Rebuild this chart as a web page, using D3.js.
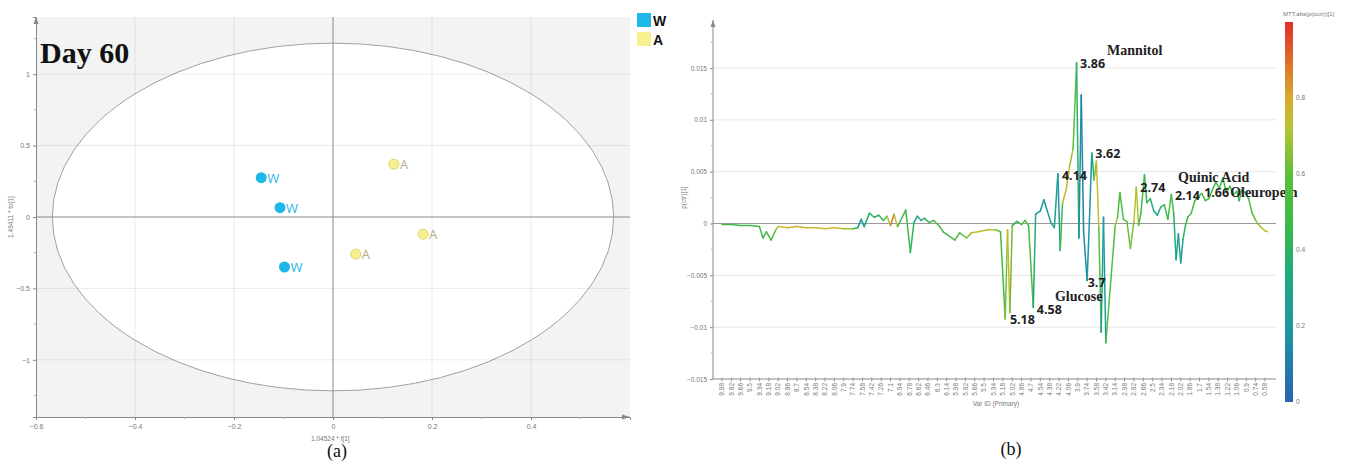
<!DOCTYPE html>
<html><head><meta charset="utf-8">
<script src="https://cdn.jsdelivr.net/npm/d3@7"></script>
<style>body{margin:0;background:#fff}svg{display:block}</style>
</head><body><svg id="c" width="1352" height="461"></svg>
<script>
// ---------- Panel (a): PLS-DA score plot ----------
const groupW_t1  = [-0.145, -0.107, -0.098];
const groupW_to1 = [0.275, 0.065, -0.35];
const groupA_t1  = [0.123, 0.182, 0.046];
const groupA_to1 = [0.37, -0.12, -0.26];
const scoreXTicks = [-0.6, -0.4, -0.2, 0, 0.2, 0.4];
const scoreYTicks = [-1, -0.5, 0, 0.5, 1];
const scoreXMinor = [-0.5, -0.3, -0.1, 0.1, 0.3, 0.5];
const scoreYMinor = [-1.25, -0.75, -0.25, 0.25, 0.75, 1.25];
const hotellingR = [0.567, 1.217];
const groupNames = ["W", "A"];

// ---------- Panel (b): S-line loading plot ----------
const varTickLabels = ["9.98","9.82","9.66","9.5","9.34","9.18","9.02","8.86","8.7","8.54","8.38","8.22","8.06","7.9","7.74","7.58","7.42","7.26","7.1","6.94","6.78","6.62","6.46","6.3","6.14","5.98","5.82","5.66","5.5","5.34","5.18","5.02","4.86","4.7","4.54","4.38","4.22","4.06","3.9","3.74","3.58","3.42","3.14","2.98","2.82","2.66","2.5","2.34","2.18","2.02","1.86","1.7","1.54","1.38","1.22","1.06","0.9","0.74","0.58"];
const loadPpm = [9.98,9.82,9.66,9.5,9.34,9.28,9.22,9.14,9.06,9.02,8.86,8.7,8.54,8.38,8.22,8.06,7.9,7.74,
  7.66,7.6,7.55,7.46,7.38,7.3,7.22,7.16,7.1,7.04,6.98,6.9,6.84,6.76,6.7,6.64,6.58,6.52,6.44,6.36,6.26,6.2,
  6.0,5.92,5.8,5.72,5.6,5.44,5.3,5.22,5.14,5.1,5.06,5.02,4.94,4.86,4.8,4.74,4.66,4.62,4.54,4.48,4.42,4.36,4.3,
  4.24,4.2,4.16,4.1,4.04,3.98,3.92,3.88,3.84,3.8,3.74,3.7,3.66,3.62,3.58,3.54,3.5,3.46,3.42,
  3.14,3.1,3.06,3.0,2.94,2.88,2.82,2.78,2.74,2.7,2.64,2.6,2.54,2.48,2.42,2.36,2.3,2.24,2.18,2.14,2.1,2.06,2.02,
  1.98,1.94,1.9,1.84,1.78,1.72,1.66,1.6,1.54,1.48,1.42,1.36,1.3,1.24,1.18,1.12,1.06,1.02,0.98,0.92,0.86,0.8,0.74,0.66,0.58,0.54];
const loadValue = [-0.0001,-0.0001,-0.0002,-0.0002,-0.0003,-0.0014,-0.0008,-0.0016,-0.0006,-0.0003,-0.0004,-0.0003,-0.0004,-0.0004,-0.0005,-0.0004,-0.0005,-0.0005,
  -0.0004,0.0004,-0.0003,0.0010,0.0006,0.0008,0.0003,0.0007,-0.0002,0.0009,-0.0003,0.0006,0.0013,-0.0028,0.0001,0.0007,0.0003,0.0005,0.0001,0.0003,-0.0003,-0.0008,
  -0.0016,-0.0009,-0.0014,-0.0009,-0.0008,-0.0006,-0.0006,-0.0008,-0.0092,-0.0006,-0.0086,-0.0002,0.0002,-0.0001,0.0003,-0.0002,-0.0081,0.0009,0.0012,0.0023,0.0012,0.0001,-0.0004,
  0.0048,-0.0026,0.0020,0.0032,0.0055,0.0072,0.0155,-0.0014,0.0124,-0.0008,-0.0055,0.0004,0.0068,0.0042,0.0060,-0.0004,-0.0105,0.0006,-0.0115,
  -0.0002,0.0006,0.0030,0.0004,0.0002,-0.0024,0.0002,0.0035,-0.0002,0.0010,0.0047,0.0020,0.0024,0.0012,0.0008,0.0016,0.0018,0.0004,0.0028,0.0010,-0.0035,-0.0010,-0.0038,
  -0.0015,-0.0002,0.0006,0.0010,0.0022,0.0026,0.0029,0.0022,0.0024,0.0032,0.0040,0.0034,0.0044,0.0030,0.0036,0.0028,0.0031,0.0022,0.0032,0.0030,0.0024,0.0010,0.0003,-0.0003,-0.0007,-0.0008];
const loadCorr = [0.5,0.5,0.5,0.5,0.5,0.45,0.5,0.5,0.6,0.76,0.76,0.76,0.76,0.77,0.76,0.76,0.74,0.6,
  0.3,0.2,0.25,0.45,0.45,0.3,0.5,0.55,0.85,0.92,0.5,0.45,0.5,0.45,0.35,0.22,0.3,0.4,0.45,0.5,0.55,0.5,
  0.5,0.55,0.6,0.7,0.76,0.76,0.72,0.5,0.5,0.78,0.78,0.45,0.35,0.55,0.5,0.6,0.45,0.25,0.25,0.22,0.25,0.3,0.3,
  0.2,0.2,0.78,0.78,0.74,0.62,0.55,0.22,0.12,0.12,0.2,0.18,0.2,0.5,0.78,0.7,0.45,0.1,0.35,
  0.78,0.6,0.5,0.55,0.6,0.62,0.66,0.8,0.6,0.5,0.5,0.4,0.4,0.35,0.3,0.35,0.45,0.5,0.55,0.45,0.25,0.25,0.25,
  0.35,0.45,0.45,0.5,0.5,0.45,0.5,0.55,0.5,0.5,0.45,0.5,0.5,0.4,0.5,0.55,0.5,0.5,0.4,0.5,0.5,0.55,0.6,0.72,0.76,0.76];
const loadYTicks = [-0.015,-0.01,-0.005,0,0.005,0.01,0.015];
const loadYMinor = [-0.0125,-0.0075,-0.0025,0.0025,0.0075,0.0125,0.0175];
const colorbarTicks = [0,0.2,0.4,0.6,0.8];
const peakLabels = [
  {t:"3.86", ppm:3.86, v:0.01504},
  {t:"3.62", ppm:3.60, v:0.00633},
  {t:"4.14", ppm:4.17, v:0.0042},
  {t:"2.74", ppm:2.71, v:0.00305},
  {t:"2.14", ppm:2.12, v:0.00227},
  {t:"1.66", ppm:1.62, v:0.00256},
  {t:"5.18", ppm:5.06, v:-0.00972},
  {t:"4.58", ppm:4.60, v:-0.00875},
  {t:"3.7",  ppm:3.73, v:-0.00614}
];
const nameLabels = [
  {t:"Mannitol", ppm:3.86, v:0.01504, dx:27, dy:-13},
  {t:"Quinic Acid", ppm:2.065, v:0.00401, dx:0, dy:0},
  {t:"Oleuropein", ppm:1.176, v:0.00256, dx:0, dy:0},
  {t:"Glucose", ppm:4.29, v:-0.0075, dx:0, dy:0}
];

const svg = d3.select("#c");
const tickFont = "Liberation Sans, Arial, sans-serif";
const wCol = "#1fb6e8", aFill = "#f6f08e", aStroke = "#ddd468";

// ====== Panel (a) ======
const xA = d3.scaleLinear().domain([-0.6, 0.6]).range([36, 630]);
const yA = d3.scaleLinear().domain([-1.4, 1.4]).range([417, 17]);
const gA = svg.append("g");
gA.append("rect").attr("x", xA(-0.6)).attr("y", yA(1.4)).attr("width", xA(0.6)-xA(-0.6)).attr("height", yA(-1.4)-yA(1.4)).attr("fill", "#f3f3f3");
gA.append("ellipse").attr("cx", xA(0)).attr("cy", yA(0))
  .attr("rx", xA(hotellingR[0]) - xA(0)).attr("ry", yA(0) - yA(hotellingR[1]))
  .attr("fill", "#fff").attr("stroke", "#a0a0a0").attr("stroke-width", 1);
gA.selectAll(".gx").data(scoreXTicks.filter(d => d !== 0 && d !== -0.6)).join("line")
  .attr("x1", d => xA(d)).attr("x2", d => xA(d)).attr("y1", yA(1.4)).attr("y2", yA(-1.4))
  .attr("stroke", "rgba(0,0,0,0.08)");
gA.selectAll(".gy").data(scoreYTicks.filter(d => d !== 0)).join("line")
  .attr("x1", xA(-0.6)).attr("x2", xA(0.6)).attr("y1", d => yA(d)).attr("y2", d => yA(d))
  .attr("stroke", "rgba(0,0,0,0.08)");
gA.append("line").attr("x1", xA(0)).attr("x2", xA(0)).attr("y1", yA(1.4)).attr("y2", yA(-1.4)).attr("stroke", "#8a8a8a");
gA.append("line").attr("x1", xA(-0.6)).attr("x2", xA(0.6)).attr("y1", yA(0)).attr("y2", yA(0)).attr("stroke", "#8a8a8a");
const axAx = d3.axisBottom(xA).tickValues(scoreXTicks).tickSize(3).tickFormat(d => d === 0 ? "0" : d3.format("")(d));
const gax = gA.append("g").attr("transform", `translate(0,${yA(-1.4)})`).call(axAx);
gax.select(".domain").attr("stroke", "#888");
gax.selectAll(".tick line").attr("stroke", "#888");
gax.selectAll("text").attr("fill", "#777").attr("font-size", 7).attr("font-family", tickFont).attr("dy", "0.9em");
gA.append("g").selectAll("line").data(scoreXMinor).join("line")
  .attr("x1", d => xA(d)).attr("x2", d => xA(d)).attr("y1", yA(-1.4)).attr("y2", yA(-1.4)+2).attr("stroke", "#aaa");
const ayAx = d3.axisLeft(yA).tickValues(scoreYTicks).tickSize(3).tickFormat(d3.format(""));
const gay = gA.append("g").attr("transform", `translate(${xA(-0.6)},0)`).call(ayAx);
gay.select(".domain").attr("stroke", "#888");
gay.selectAll(".tick line").attr("stroke", "#888");
gay.selectAll("text").attr("fill", "#777").attr("font-size", 7).attr("font-family", tickFont);
gA.append("g").selectAll("line").data(scoreYMinor).join("line")
  .attr("x1", xA(-0.6)-2).attr("x2", xA(-0.6)).attr("y1", d => yA(d)).attr("y2", d => yA(d)).attr("stroke", "#aaa");
gA.append("path").attr("d", `M${xA(-0.6)-2.5},${yA(1.4)+7}L${xA(-0.6)},${yA(1.4)}L${xA(-0.6)+2.5},${yA(1.4)+7}Z`).attr("fill", "#888");
gA.append("path").attr("d", `M${xA(0.6)-8},${yA(-1.4)-2.5}L${xA(0.6)},${yA(-1.4)}L${xA(0.6)-8},${yA(-1.4)+2.5}Z`).attr("fill", "#888");
gA.append("text").attr("x", xA(0)-22).attr("y", 441).text("1.04524 * t[1]")
  .attr("font-size", 6.5).attr("fill", "#777").attr("font-family", tickFont);
gA.append("text").attr("transform", `translate(13,${yA(0)}) rotate(-90)`).attr("text-anchor", "middle")
  .text("1.49411 * to[1]").attr("font-size", 6.5).attr("fill", "#777").attr("font-family", tickFont);
const ptsW = groupW_t1.map((d, i) => [d, groupW_to1[i]]);
const ptsA = groupA_t1.map((d, i) => [d, groupA_to1[i]]);
gA.selectAll(".pw").data(ptsW).join("circle").attr("cx", d => xA(d[0])).attr("cy", d => yA(d[1])).attr("r", 5.5).attr("fill", wCol);
gA.selectAll(".lw").data(ptsW).join("text").attr("x", d => xA(d[0])+6).attr("y", d => yA(d[1])+5)
  .text(groupNames[0]).attr("fill", wCol).attr("font-size", 13).attr("font-family", "Open Sans, sans-serif");
gA.selectAll(".pa").data(ptsA).join("circle").attr("cx", d => xA(d[0])).attr("cy", d => yA(d[1])).attr("r", 5)
  .attr("fill", aFill).attr("stroke", aStroke).attr("stroke-width", 1);
gA.selectAll(".la").data(ptsA).join("text").attr("x", d => xA(d[0])+6).attr("y", d => yA(d[1])+5)
  .text(groupNames[1]).attr("fill", "#b5ae86").attr("font-size", 13).attr("font-family", "Open Sans, sans-serif");
gA.append("text").attr("x", 40).attr("y", 63).text("Day 60").attr("font-family", "Liberation Serif, serif")
  .attr("font-weight", "bold").attr("font-size", 30).attr("fill", "#111");
[[wCol, groupNames[0]], [aFill, groupNames[1]]].forEach((d, i) => {
  gA.append("rect").attr("x", 637).attr("y", 13 + i*19).attr("width", 14).attr("height", 14).attr("fill", d[0]);
  gA.append("text").attr("x", 653).attr("y", 26 + i*19).text(d[1]).attr("font-family", "Liberation Sans, Arial, sans-serif")
    .attr("font-weight", "bold").attr("font-size", 14).attr("fill", "#111");
});
svg.append("text").attr("x", 337).attr("y", 457).attr("text-anchor", "middle").text("(a)")
  .attr("font-family", "Liberation Serif, serif").attr("font-size", 18).attr("fill", "#111");

// ====== Panel (b) ======
const nT = varTickLabels.length;
const x0 = 722, x1 = 1265, step = (x1 - x0) / (nT - 1);
const iGap = varTickLabels.indexOf("3.42");
const xB = d3.scaleLinear()
  .domain([+varTickLabels[0], +varTickLabels[iGap], +varTickLabels[iGap+1], +varTickLabels[nT-1]])
  .range([x0, x0 + iGap*step, x0 + (iGap+1)*step, x1]);
const yB = d3.scaleLinear().domain([-0.015, 0.015]).range([379, 68]);
const cScale = d3.scaleLinear().domain([0, 0.2, 0.35, 0.45, 0.6, 0.72, 0.8, 1])
  .range(["#2a62ae", "#1c98a2", "#22ab7a", "#37b84a", "#5cbf3a", "#b8c434", "#d9aa2c", "#e0302a"]).interpolate(d3.interpolateRgb);
const gB = svg.append("g");
const axL = 713, axR = 1276;
gB.selectAll(".gy").data(loadYTicks.filter(d => d !== 0 && d !== -0.015)).join("line")
  .attr("x1", axL).attr("x2", axR).attr("y1", d => yB(d)).attr("y2", d => yB(d)).attr("stroke", "#e6e6e6");
gB.append("line").attr("x1", axL).attr("x2", axR).attr("y1", yB(0)).attr("y2", yB(0)).attr("stroke", "#999");
const byAx = d3.axisLeft(yB).tickValues(loadYTicks).tickSize(3).tickFormat(d => d === 0 ? "0" : d3.format("")(+d.toFixed(3)));
const gby = gB.append("g").attr("transform", `translate(${axL},0)`).call(byAx);
gby.select(".domain").remove();
gby.selectAll(".tick line").attr("stroke", "#888");
gby.selectAll("text").attr("fill", "#777").attr("font-size", 6.5).attr("font-family", tickFont);
gB.append("line").attr("x1", axL).attr("x2", axL).attr("y1", yB(-0.015)).attr("y2", 20).attr("stroke", "#888");
gB.append("path").attr("d", `M${axL-2.5},27L${axL},20L${axL+2.5},27Z`).attr("fill", "#888");
gB.append("g").selectAll("line").data(loadYMinor).join("line")
  .attr("x1", axL-2).attr("x2", axL).attr("y1", d => yB(d)).attr("y2", d => yB(d)).attr("stroke", "#aaa");
gB.append("line").attr("x1", axL).attr("x2", axR).attr("y1", yB(-0.015)).attr("y2", yB(-0.015)).attr("stroke", "#888");
gB.append("g").selectAll("line").data(varTickLabels).join("line")
  .attr("x1", d => xB(+d)).attr("x2", d => xB(+d)).attr("y1", yB(-0.015)-1.5).attr("y2", yB(-0.015)+2.5).attr("stroke", "#999");
gB.append("g").selectAll("text").data(varTickLabels).join("text")
  .attr("transform", d => `translate(${xB(+d)},${yB(-0.015)+4}) rotate(-90)`)
  .attr("text-anchor", "end").attr("dy", "0.35em").text(d => d)
  .attr("font-size", 6.5).attr("fill", "#777").attr("font-family", tickFont);
gB.append("text").attr("x", 996).attr("y", 406).attr("text-anchor", "middle").text("Var ID (Primary)")
  .attr("font-size", 6.5).attr("fill", "#777").attr("font-family", tickFont);
gB.append("text").attr("transform", `translate(686,${yB(0.0025)}) rotate(-90)`).attr("text-anchor", "middle")
  .text("p(ctr)[1]").attr("font-size", 6.5).attr("fill", "#777").attr("font-family", tickFont);
const segs = d3.range(loadPpm.length - 1).map(i => ({a: i, b: i+1}));
gB.append("g").selectAll("line").data(segs).join("line")
  .attr("x1", d => xB(loadPpm[d.a])).attr("y1", d => yB(loadValue[d.a]))
  .attr("x2", d => xB(loadPpm[d.b])).attr("y2", d => yB(loadValue[d.b]))
  .attr("stroke", d => cScale((loadCorr[d.a] + loadCorr[d.b]) / 2))
  .attr("stroke-width", 1.5).attr("stroke-linecap", "round");
gB.append("g").selectAll("text").data(peakLabels).join("text").attr("x", d => xB(d.ppm)).attr("y", d => yB(d.v)).text(d => d.t)
  .attr("font-family", "Open Sans, sans-serif").attr("font-weight", "bold").attr("font-size", 12.5).attr("fill", "#222");
gB.append("g").selectAll("text").data(nameLabels).join("text").attr("x", d => xB(d.ppm) + d.dx).attr("y", d => yB(d.v) + d.dy).text(d => d.t)
  .attr("font-family", "Liberation Serif, serif").attr("font-weight", "bold").attr("font-size", 14).attr("fill", "#222");
const cb = d3.scaleLinear().domain([0, 1]).range([402, 22]);
const defs = svg.append("defs");
const grad = defs.append("linearGradient").attr("id", "cbg").attr("x1", 0).attr("y1", 1).attr("x2", 0).attr("y2", 0);
cScale.domain().forEach(v => grad.append("stop").attr("offset", v).attr("stop-color", cScale(v)));
gB.append("rect").attr("x", 1285).attr("y", cb(1)).attr("width", 8).attr("height", cb(0) - cb(1)).attr("fill", "url(#cbg)");
gB.append("g").selectAll("text").data(colorbarTicks).join("text").attr("x", 1296).attr("y", d => cb(d)).attr("dy", "0.35em")
  .text(d => d3.format("")(d)).attr("font-size", 6.5).attr("fill", "#777").attr("font-family", tickFont);
gB.append("text").attr("x", 1283).attr("y", 16).text("MTT.abs(p(corr))[1]")
  .attr("font-size", 6).attr("fill", "#777").attr("font-family", tickFont);
svg.append("text").attr("x", 1011).attr("y", 455).attr("text-anchor", "middle").text("(b)")
  .attr("font-family", "Liberation Serif, serif").attr("font-size", 18).attr("fill", "#111");
</script></body></html>
